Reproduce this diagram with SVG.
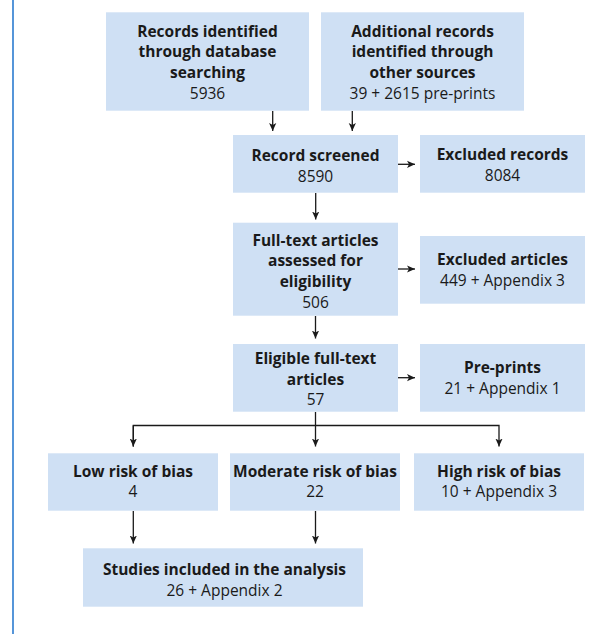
<svg xmlns="http://www.w3.org/2000/svg" width="616" height="634" viewBox="0 0 616 634">
<style>
.box{fill:#cfe0f4}
.t{font-family:"Open Sans","Liberation Sans",sans-serif;font-size:15.5px;fill:#1a1a1a;text-anchor:middle}
.b{font-weight:bold}
.n{font-weight:normal}
.conn{stroke:#1a1a1a;stroke-width:1.3;fill:none}
</style>
<defs>
<marker id="ah" markerUnits="userSpaceOnUse" markerWidth="8" markerHeight="8" viewBox="0 0 8 8" refX="8" refY="4" orient="auto">
<path d="M0,0.4 L8,4 L0,7.6 L2,4 z" fill="#1a1a1a"/>
</marker>
</defs>
<rect width="616" height="634" fill="#ffffff"/>
<line x1="13" y1="0" x2="13" y2="634" stroke="#2b7bd0" stroke-width="1.6"/>

<g id="records-db">
<rect class="box" x="106" y="12.3" width="203" height="98.4"/>
<text class="t b" x="207.5" y="37">Records identified</text>
<text class="t b" x="207.5" y="57.3">through database</text>
<text class="t b" x="207.5" y="77.5">searching</text>
<text class="t n" x="207.5" y="98.7">5936</text>
</g>
<g id="records-other">
<rect class="box" x="321" y="12.3" width="203" height="98.4"/>
<text class="t b" x="422.5" y="37">Additional records</text>
<text class="t b" x="422.5" y="57.3">identified through</text>
<text class="t b" x="422.5" y="77.5">other sources</text>
<text class="t n" x="422.5" y="98.7">39 + 2615 pre-prints</text>
</g>
<g id="screened">
<rect class="box" x="233" y="135" width="165" height="57.7"/>
<text class="t b" x="315.5" y="160.5">Record screened</text>
<text class="t n" x="315.5" y="181.5">8590</text>
</g>
<g id="excluded-records">
<rect class="box" x="420" y="135" width="165" height="57.7"/>
<text class="t b" x="502.5" y="159.5">Excluded records</text>
<text class="t n" x="502.5" y="180.5">8084</text>
</g>
<g id="fulltext">
<rect class="box" x="233" y="222.7" width="165" height="93"/>
<text class="t b" x="315.5" y="245.7">Full-text articles</text>
<text class="t b" x="315.5" y="266">assessed for</text>
<text class="t b" x="315.5" y="287">eligibility</text>
<text class="t n" x="315.5" y="307.5">506</text>
</g>
<g id="excluded-articles">
<rect class="box" x="420" y="236" width="165" height="67.7"/>
<text class="t b" x="502.5" y="265">Excluded articles</text>
<text class="t n" x="502.5" y="285.5">449 + Appendix 3</text>
</g>
<g id="eligible">
<rect class="box" x="233" y="344" width="165" height="67.7"/>
<text class="t b" x="315.5" y="364">Eligible full-text</text>
<text class="t b" x="315.5" y="384.5">articles</text>
<text class="t n" x="315.5" y="405">57</text>
</g>
<g id="preprints">
<rect class="box" x="420" y="344" width="165" height="67.7"/>
<text class="t b" x="502.5" y="372.7">Pre-prints</text>
<text class="t n" x="502.5" y="394">21 + Appendix 1</text>
</g>
<g id="low">
<rect class="box" x="48" y="453.3" width="170" height="57.4"/>
<text class="t b" x="133" y="476.7">Low risk of bias</text>
<text class="t n" x="133" y="497.3">4</text>
</g>
<g id="moderate">
<rect class="box" x="230" y="453.3" width="170" height="57.4"/>
<text class="t b" x="315" y="476.7">Moderate risk of bias</text>
<text class="t n" x="315" y="497.3">22</text>
</g>
<g id="high">
<rect class="box" x="414" y="453.3" width="170" height="57.4"/>
<text class="t b" x="499" y="476.7">High risk of bias</text>
<text class="t n" x="499" y="497.3">10 + Appendix 3</text>
</g>
<g id="studies">
<rect class="box" x="83" y="548.3" width="280" height="58.4"/>
<text class="t b" x="224.5" y="575">Studies included in the analysis</text>
<text class="t n" x="224.5" y="595.5">26 + Appendix 2</text>
</g>

<g id="connectors" class="conn">
<path d="M272.7,111 V131" marker-end="url(#ah)"/>
<path d="M352.3,111 V131" marker-end="url(#ah)"/>
<path d="M398,164.3 H415" marker-end="url(#ah)"/>
<path d="M315.7,193 V219.5" marker-end="url(#ah)"/>
<path d="M398,269 H415" marker-end="url(#ah)"/>
<path d="M315.5,316 V338.5" marker-end="url(#ah)"/>
<path d="M398,377.7 H415" marker-end="url(#ah)"/>
<path d="M315.5,412 V446.5" marker-end="url(#ah)"/>
<path d="M133.3,446.5 V425.5 H499 V446.5" marker-end="url(#ah)"/>
<path d="M133.3,425.5 V446.5" marker-end="url(#ah)"/>
<path d="M133.3,511 V543.5" marker-end="url(#ah)"/>
<path d="M315.5,511 V543.5" marker-end="url(#ah)"/>
</g>
</svg>
